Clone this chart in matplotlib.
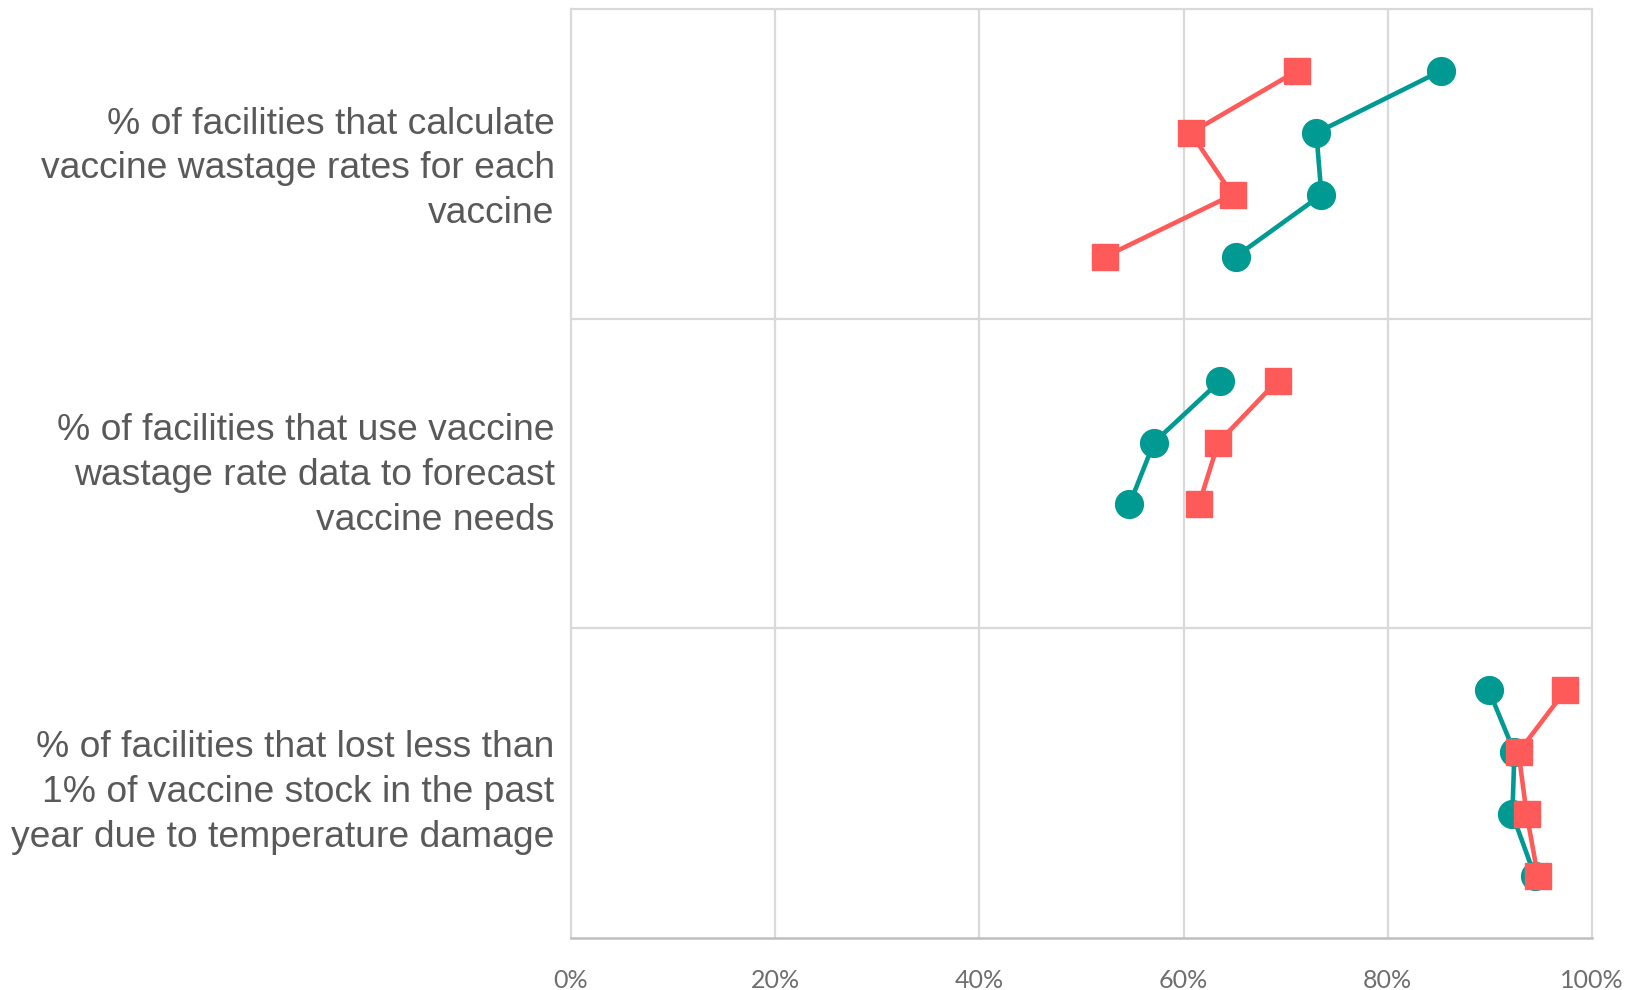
import numpy as np
import matplotlib.pyplot as plt
from matplotlib.ticker import PercentFormatter

categories = [
    "% of facilities that calculate\nvaccine wastage rates for each\nvaccine",
    "% of facilities that use vaccine\nwastage rate data to forecast\nvaccine needs",
    "% of facilities that lost less than\n1% of vaccine stock in the past\nyear due to temperature damage",
]
# four sub-rows per category (top to bottom), nan = no value
teal_vals = [
    [85.2, 73.0, 73.5, 65.1],
    [63.6, 57.1, 54.7, np.nan],
    [89.9, 92.4, 92.2, 94.4],
]
red_vals = [
    [71.1, 60.7, 64.8, 52.3],
    [69.2, 63.4, 61.5, np.nan],
    [97.4, 92.8, 93.6, 94.7],
]
xticks = [0, 20, 40, 60, 80, 100]

TEAL = "#009A93"
RED = "#FF5A5A"
GRID = "#D9D9D9"
TEXT = "#595959"

fig = plt.figure(figsize=(16.28, 9.9), dpi=100)
ax = fig.add_axes([0.3507, 0.0525, 0.6272, 0.9384])

n_rows = 5
label_shift = [0.08, 0.03, 0.15]
for i in range(len(categories)):
    y = i * n_rows + np.arange(1, 5)
    t = np.array(teal_vals[i])
    r = np.array(red_vals[i])
    ax.plot(t, y, color=TEAL, lw=3.3, marker="o", ms=20, zorder=3)
    ax.plot(r, y, color=RED, lw=3.3, marker="s", ms=19, zorder=4)
    ax.text(-0.016, (i + 0.5) * n_rows + label_shift[i], categories[i],
            transform=ax.get_yaxis_transform(), ha="right", va="center",
            multialignment="right", fontsize=26.8, color=TEXT,
            family="Liberation Sans", linespacing=1.36)

ax.set_xlim(0, 100)
ax.set_ylim(len(categories) * n_rows, 0)
ax.set_xticks(xticks)
ax.xaxis.set_major_formatter(PercentFormatter(decimals=0))
ax.set_yticks([])
for v in xticks[1:-1]:
    ax.axvline(v, color=GRID, lw=1.6, zorder=1)
for k in range(1, len(categories)):
    ax.axhline(k * n_rows, color=GRID, lw=1.6, zorder=1)

for s in ["top", "left", "right"]:
    ax.spines[s].set_color(GRID)
    ax.spines[s].set_linewidth(1.6)
ax.spines["bottom"].set_color("#BFBFBF")
ax.spines["bottom"].set_linewidth(1.8)
ax.tick_params(axis="x", length=0, pad=22, labelsize=18, labelcolor="#6E6E6E")
for lbl in ax.get_xticklabels():
    lbl.set_family("Lato")

fig.savefig("out.png", dpi=100)
